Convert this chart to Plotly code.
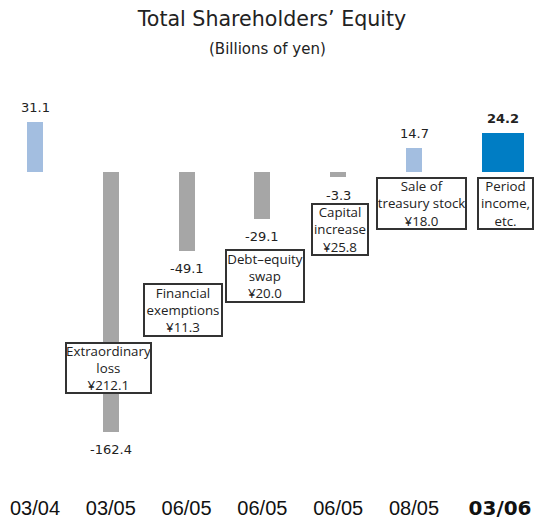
import plotly.graph_objects as go

# ---- data ----
period_labels = ["03/04", "03/05", "06/05", "06/05", "06/05", "08/05", "03/06"]
equity_values = [31.1, -162.4, -49.1, -29.1, -3.3, 14.7, 24.2]
value_labels = ["31.1", "-162.4", "-49.1", "-29.1", "-3.3", "14.7", "24.2"]
box_texts = [
    "Extraordinary<br>loss<br>¥212.1",
    "Financial<br>exemptions<br>¥11.3",
    "Debt–equity<br>swap<br>¥20.0",
    "Capital<br>increase<br>¥25.8",
    "Sale of<br>treasury stock<br>¥18.0",
    "Period<br>income,<br>etc.",
]

# ---- layout / style ----
W, H = 535, 526
x_pos = [0, 1, 2, 3, 4, 5, 6.17]
tick_pos = [0, 1, 2, 3, 4, 5, 6.135]
bar_widths = [0.211] * 6 + [0.554]
bar_colors = ["#A3BEE0", "#A6A6A6", "#A6A6A6", "#A6A6A6", "#A6A6A6", "#A3BEE0", "#007DC4"]

PX_X0, PX_STEP = 35.0, 75.8         # pixel x of category 0, pixels per category
PX_Y0, PX_PER_UNIT = 172.0, 1.6     # pixel y of zero, pixels per billion yen
T_PX, B_PX = 60, 494                # plot area top / bottom in pixels

x_range = [-PX_X0 / PX_STEP, (W - PX_X0) / PX_STEP]
y_range = [-(B_PX - PX_Y0) / PX_PER_UNIT, (PX_Y0 - T_PX) / PX_PER_UNIT]

def px_to_x(px):
    return (px - PX_X0) / PX_STEP

def px_to_y(py):
    return (PX_Y0 - py) / PX_PER_UNIT

# box centres and sizes (pixels)
box_geom = [
    (108.0, 368.0, 87, 52),
    (182.5, 309.7, 80, 54),
    (265.0, 276.0, 80, 54),
    (339.5, 229.7, 58, 53),
    (421.5, 203.7, 91, 53),
    (505.0, 203.7, 57, 53),
]

fig = go.Figure()
fig.add_trace(go.Bar(
    x=x_pos, y=equity_values, width=bar_widths,
    marker=dict(color=bar_colors, line=dict(width=0)),
    hoverinfo="skip", showlegend=False,
))

annotations = []
# value labels
for i, (xv, v, t) in enumerate(zip(x_pos, equity_values, value_labels)):
    bold = i == len(equity_values) - 1
    annotations.append(dict(
        x=xv, y=v, xref="x", yref="y",
        text=f"<b>{t}</b>" if bold else t,
        showarrow=False, yanchor="middle", xanchor="center",
        yshift=15 if v > 0 else -18,
        font=dict(family="DejaVu Sans", size=13, color="#222222"),
    ))

# boxes
for t, (cx, cy, bw, bh) in zip(box_texts, box_geom):
    annotations.append(dict(
        x=px_to_x(cx), y=px_to_y(cy), xref="x", yref="y",
        text=t, showarrow=False, xanchor="center", yanchor="middle",
        width=bw - 4, height=bh - 4, align="center", valign="middle",
        bgcolor="white", bordercolor="#333333", borderwidth=2, borderpad=0,
        font=dict(family="Open Sans", size=13.3, color="#222222"),
    ))

# subtitle
annotations.append(dict(
    x=0.5, y=(B_PX - 48.5) / (B_PX - T_PX), xref="paper", yref="paper",
    text="(Billions of yen)", showarrow=False, xanchor="center", yanchor="middle",
    font=dict(family="DejaVu Sans", size=15, color="#222222"),
))

tick_text = list(period_labels)
tick_text[-1] = f"<span style='font-family:DejaVu Sans'><b>{period_labels[-1]}</b></span>"

fig.update_layout(
    width=W, height=H,
    margin=dict(l=0, r=0, t=T_PX, b=H - B_PX, pad=0),
    paper_bgcolor="white", plot_bgcolor="white",
    title=dict(
        text="Total Shareholders’ Equity",
        x=272 / W, xanchor="center", xref="container",
        y=1 - 19 / H, yanchor="middle", yref="container",
        font=dict(family="DejaVu Sans", size=20.6, color="#222222"),
    ),
    xaxis=dict(
        range=x_range, tickmode="array", tickvals=tick_pos, ticktext=tick_text,
        showgrid=False, zeroline=False, showline=False, ticks="",
        tickfont=dict(family="Liberation Sans", size=20, color="#111111"),
        fixedrange=True,
    ),
    yaxis=dict(
        range=y_range, showgrid=False, zeroline=False, showline=False,
        showticklabels=False, ticks="", fixedrange=True,
    ),
    annotations=annotations,
    bargap=0,
)

fig.write_html(
    "out.html",
    config={"displayModeBar": False, "staticPlot": True},
    post_script=(
        "document.body.style.margin='0';"
        "document.body.style.overflow='hidden';"
        "document.documentElement.style.overflow='hidden';"
    ),
)
